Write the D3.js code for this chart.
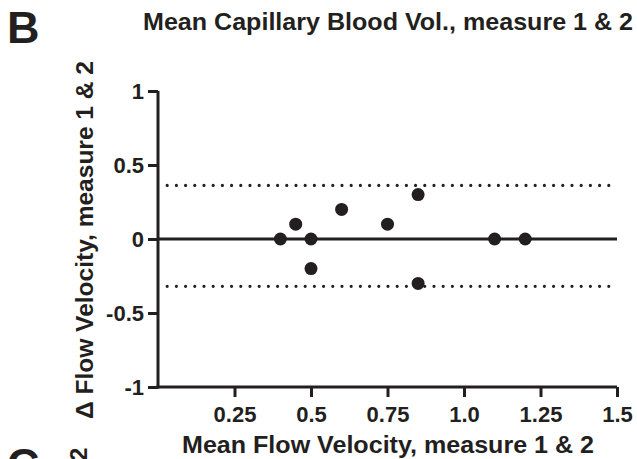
<!DOCTYPE html>
<html>
<head>
<meta charset="utf-8">
<script src="https://cdn.jsdelivr.net/npm/d3@7"></script>
<style>
	body { margin: 0; background: #fff; }
	text { font-family: "Liberation Sans", Arial, sans-serif; font-weight: bold; fill: #231f20; }
</style>
</head>
<body>
<svg id="chart" width="637" height="459"></svg>
<script>
// mean of the two measures vs. their difference (Bland-Altman)
var mean_vel = [0.4, 0.45, 0.5, 0.5, 0.6, 0.75, 0.85, 0.85, 1.1, 1.2];
var diff_vel = [0.0, 0.1, 0.0, -0.2, 0.2, 0.1, 0.3, -0.3, 0.0, 0.0];
var bias = 0;
var limits = [0.362, -0.32];
var x_ticks = [0.25, 0.5, 0.75, 1.0, 1.25, 1.5];
var x_tick_labels = ['0.25', '0.5', '0.75', '1.0', '1.25', '1.5'];
var y_ticks = [-1, -0.5, 0, 0.5, 1];
var y_tick_labels = ['-1', '-0.5', '0', '0.5', '1'];

var svg = d3.select('#chart');
var ink = '#231f20';

var x_scale = d3.scaleLinear().domain([0, 1.5]).range([158, 617]);
var y_scale = d3.scaleLinear().domain([-1, 1]).range([387, 91]);

// axes
var x_axis = d3.axisBottom(x_scale).tickValues(x_ticks).tickSize(10).tickPadding(6)
	.tickFormat((d, i) => x_tick_labels[i]);
var y_axis = d3.axisLeft(y_scale).tickValues(y_ticks).tickSize(10).tickPadding(4)
	.tickFormat((d, i) => y_tick_labels[i]);

var gx = svg.append('g').attr('transform', 'translate(0,387)').call(x_axis);
var gy = svg.append('g').attr('transform', 'translate(158,0)').call(y_axis);

[gx, gy].forEach(function(g) {
	g.attr('font-size', 22).attr('font-family', null);
	g.select('.domain').attr('stroke', ink).attr('stroke-width', 3);
	g.selectAll('.tick line').attr('stroke', ink).attr('stroke-width', 3);
	g.selectAll('.tick text').attr('fill', ink);
});
gx.select('.domain').attr('d', 'M' + (158 - 1.5) + ',0H617');
gy.select('.domain').attr('d', 'M0,91V' + (387 + 1.5));
gx.selectAll('.tick text').attr('dy', '0.85em');

// bias line
svg.append('line')
	.attr('x1', x_scale(0)).attr('x2', x_scale(1.5))
	.attr('y1', y_scale(bias)).attr('y2', y_scale(bias))
	.attr('stroke', ink).attr('stroke-width', 3);

// limits of agreement
svg.selectAll('line.loa').data(limits).enter().append('line').attr('class', 'loa')
	.attr('x1', x_scale(0.03)).attr('x2', x_scale(1.5))
	.attr('y1', d => y_scale(d)).attr('y2', d => y_scale(d))
	.attr('stroke', ink).attr('stroke-width', 3.2)
	.attr('stroke-linecap', 'round').attr('stroke-dasharray', '0,9.2');

// points
svg.selectAll('circle').data(mean_vel).enter().append('circle')
	.attr('cx', d => x_scale(d)).attr('cy', (d, i) => y_scale(diff_vel[i]))
	.attr('r', 6.5).attr('fill', ink);

// labels
svg.append('text').attr('x', 7).attr('y', 43).attr('font-size', 45).text('B');
svg.append('text').attr('x', 143).attr('y', 30).attr('font-size', 24)
	.attr('textLength', 490).attr('lengthAdjust', 'spacingAndGlyphs')
	.text('Mean Capillary Blood Vol., measure 1 & 2');
svg.append('text').attr('x', 182).attr('y', 453).attr('font-size', 24)
	.attr('textLength', 412).attr('lengthAdjust', 'spacingAndGlyphs')
	.text('Mean Flow Velocity, measure 1 & 2');
svg.append('text').attr('transform', 'translate(93,419) rotate(-90)')
	.attr('font-size', 24).attr('textLength', 358).attr('lengthAdjust', 'spacingAndGlyphs')
	.text('\u0394 Flow Velocity, measure 1 & 2');

// cut-off bits of the next panel
svg.append('text').attr('x', 7).attr('y', 480).attr('font-size', 45).text('C');
svg.append('text').attr('transform', 'translate(87,461) rotate(-90)').attr('font-size', 24).text('2');
</script>
</body>
</html>
